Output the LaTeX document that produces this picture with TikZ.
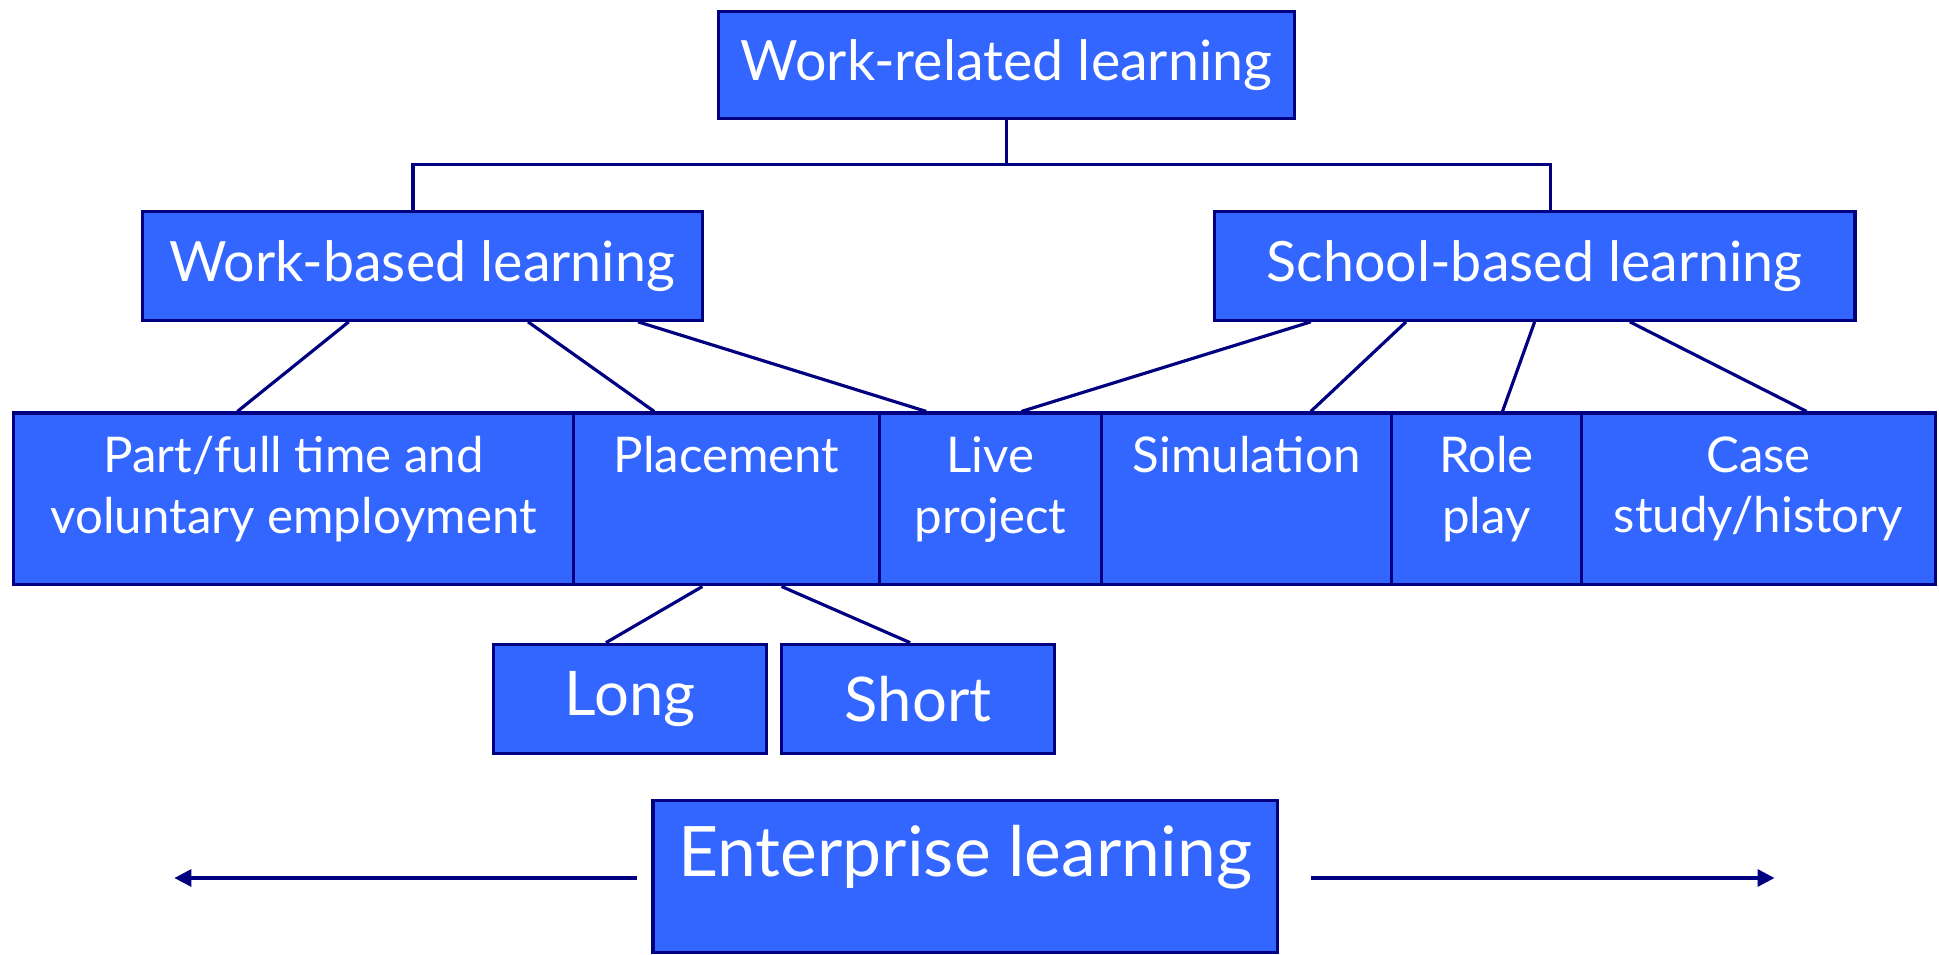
\documentclass[tikz,border=0pt]{standalone}
\usepackage{fontspec}
\setmainfont{Lato}
\usetikzlibrary{arrows.meta}

\definecolor{boxblue}{HTML}{3366FF}
\definecolor{linenavy}{HTML}{000080}

\tikzset{
  box/.style={draw=linenavy, line width=0.9pt, fill=boxblue, text=white,
    align=center, inner sep=0pt},
  sz/.style 2 args={minimum width=#1*0.012366cm, minimum height=#2*0.012366cm},
  link/.style={draw=linenavy, line width=0.9pt},
  big/.style={font=\fontsize{15.8}{19}\selectfont},
  mid/.style={font=\fontsize{14}{17.2}\selectfont, text depth=8pt},
  huge/.style={font=\fontsize{17.5}{21}\selectfont},
}

\begin{document}
\begin{tikzpicture}[x=0.012366cm, y=-0.012366cm]
  \useasboundingbox (0,0) rectangle (1568,772);

  % top and middle level
  \node[box, big, sz={466}{87}] (wrl) at (814,52.5) {Work-related learning};
  \node[box, big, sz={453}{88}] (wbl) at (341.5,215) {Work-based learning};
  \node[box, big, sz={518}{88}] (sbl) at (1241,215) {School-based learning};

  % row of learning types
  \node[box, mid, sz={453}{139}] (ptime) at (237.5,403.5) {Part/full time and\\voluntary employment};
  \node[box, mid, sz={247}{139}] (place) at (587.5,403.5) {Placement\\\strut};
  \node[box, mid, sz={180}{139}] (live)  at (801,403.5)   {Live\\project};
  \node[box, mid, sz={234}{139}] (sim)   at (1008,403.5)  {Simulation\\\strut};
  \node[box, mid, sz={154}{139}] (role)  at (1202,403.5)  {Role\\play};
  \node[box, mid, sz={286}{139}] (case)  at (1422,403.5)  {Case\\study/history};

  % placement lengths
  \node[box, huge, sz={221}{88}] (long)  at (509.5,565) {Long};
  \node[box, huge, sz={221}{88}] (short) at (742.5,565) {Short};

  \node[box, font=\fontsize{19.8}{24}\selectfont, text depth=14.5pt, sz={505}{123}] (ent) at (780.5,708.5) {Enterprise learning};

  % bus from the top box
  \coordinate (bus) at (814,133);
  \draw[link] (wrl.south) -- (bus);
  \draw[link] (334,0 |- wbl.north) |- (bus) -| (1254,0 |- sbl.north);

  % work-based links
  \draw[link] (282,0 |- wbl.south) -- (192,0 |- ptime.north);
  \draw[link] (427,0 |- wbl.south) -- (529,0 |- place.north);
  \draw[link] (516,0 |- wbl.south) -- (749,0 |- live.north);

  % school-based links
  \draw[link] (1060,0 |- sbl.south) -- (826,0 |- live.north);
  \draw[link] (1137,0 |- sbl.south) -- (1060,0 |- sim.north);
  \draw[link] (1241,0 |- sbl.south) -- (1215,0 |- role.north);
  \draw[link] (1318,0 |- sbl.south) -- (1461,0 |- case.north);

  \draw[link] (568,0 |- place.south) -- (490,0 |- long.north);
  \draw[link] (632,0 |- place.south) -- (736,0 |- short.north);

  % enterprise arrows
  \coordinate (leftend) at (141,710);
  \coordinate (rightend) at (1435,710);
  \draw[link, -{Triangle[length=1.7mm, width=1.7mm]}] (515,0 |- leftend) -- (leftend);
  \draw[link, -{Triangle[length=1.7mm, width=1.7mm]}] (1060,0 |- rightend) -- (rightend);
\end{tikzpicture}
\end{document}
